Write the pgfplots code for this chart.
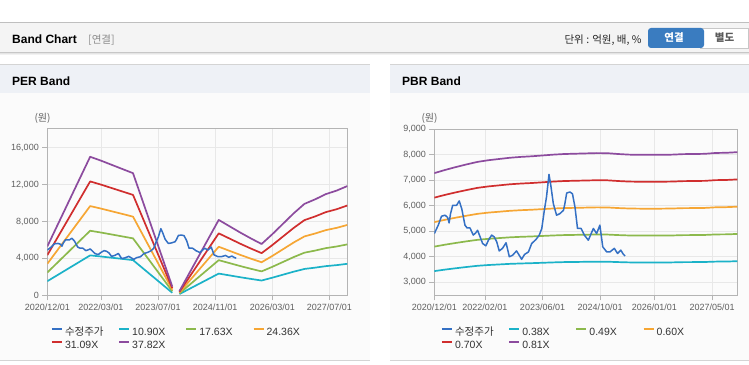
\documentclass[border=0pt]{standalone}
\usepackage{fontspec}
\setmainfont{Liberation Sans}
\newfontfamily\kr{Noto Sans CJK KR}
\usepackage{pgfplots}
\usepackage{pgfplotstable}
\pgfplotsset{compat=1.18}
\definecolor{cPrice}{RGB}{52,112,196}
\definecolor{cCyan}{RGB}{27,178,200}
\definecolor{cGreen}{RGB}{140,185,76}
\definecolor{cOrange}{RGB}{246,166,52}
\definecolor{cRed}{RGB}{208,46,46}
\definecolor{cPurple}{RGB}{140,75,158}
\definecolor{tickgray}{RGB}{95,95,95}
\definecolor{axgray}{RGB}{180,180,180}
\definecolor{gridgray}{RGB}{232,232,232}
\definecolor{hdrbg}{RGB}{244,244,244}
\definecolor{panelbg}{RGB}{238,241,246}
\definecolor{btnblue}{RGB}{58,124,192}

\pgfplotstableread{
m price
0 4900
1.1 5230
2.0 5580
3.0 5620
3.7 5530
4.1 5320
4.5 5680
5.1 6010
6.2 6010
6.9 6180
7.6 5880
8.5 5230
9.1 5120
9.9 5120
10.8 4840
11.5 4930
12.0 5030
12.7 4770
13.4 4510
14.3 4420
15.0 4640
15.9 4840
16.6 4770
17.3 4580
18.0 4220
18.9 4320
19.9 4540
20.8 3990
21.7 4050
22.8 4220
23.8 3990
24.2 3890
25.0 4080
26.1 4180
27.0 4510
28.2 4670
29.1 4840
29.8 5100
30.5 5810
31.1 6330
31.8 7220
32.3 6790
33.0 6070
33.9 5620
34.8 5680
35.8 5810
36.2 6070
36.7 6490
37.6 6530
38.3 6460
39.0 5940
39.7 5100
40.7 5100
41.6 4840
42.7 4640
43.3 4840
44.1 5100
45.0 4900
45.9 5230
46.7 4380
47.8 4180
48.7 4180
49.9 4320
50.8 4120
51.7 4250
52.4 4090
52.9 4020
}\price

\pgfplotstableread{
m c g o r p
0 1526 2468 3410 4353 5295
12 4327 6999 9671 12343 15015
15 4207 6805 9403 12001 14599
18 4077 6594 9111 11628 14145
21 3946 6382 8818 11255 13691
24 3815 6171 8526 10882 13237
35 273 441 609 777 946
36 nan nan nan nan nan
37 131 212 292 373 454
48 2354 3808 5262 6715 8169
51 2158 3491 4823 6156 7488
54 1962 3173 4385 5596 6808
57 1777 2874 3971 5068 6165
60 1602 2592 3581 4570 5560
63 1908 3085 4263 5441 6619
66 2235 3614 4994 6373 7753
69 2562 4143 5725 7306 8888
72 2856 4619 6382 8146 9909
75 2998 4848 6699 8550 10401
78 3161 5113 7064 9016 10968
81 3270 5289 7308 9327 11346
84 3412 5518 7625 9731 11838
}\per

\pgfplotstableread{
m c g o r p
0 3428 4389 5349 6309 7270
3 3488 4465 5441 6418 7395
6 3541 4533 5525 6517 7509
9 3591 4597 5602 6608 7614
12 3637 4655 5674 6693 7711
15 3667 4694 5722 6749 7776
18 3690 4724 5757 6791 7825
21 3713 4753 5793 6833 7873
24 3728 4773 5817 6861 7906
27 3740 4787 5835 6882 7930
30 3755 4807 5859 6910 7962
33 3770 4826 5883 6939 7995
36 3782 4841 5900 6960 8019
40 3789 4851 5912 6974 8035
45 3799 4863 5927 6991 8055
48 3797 4861 5924 6988 8051
51 3782 4841 5900 6960 8019
54 3770 4826 5883 6939 7995
57 3767 4822 5877 6932 7987
63 3767 4822 5877 6932 7987
66 3770 4826 5883 6939 7995
69 3780 4839 5897 6956 8015
72 3782 4841 5900 6960 8019
75 3786 4846 5906 6967 8027
78 3801 4866 5930 6995 8060
81 3805 4870 5936 7002 8068
84 3816 4885 5954 7023 8092
}\pbr

\pgfplotsset{
  bandaxis/.style={
    scale only axis,
    anchor=south west,
    xmin=0, xmax=84,
    scaled ticks=false,
    tick pos=left,
    tick align=outside,
    major tick length=5pt,
    tick style={color=axgray, line width=0.6pt},
    axis line style={color=axgray, line width=0.8pt},
    grid=major,
    major grid style={color=gridgray, line width=0.6pt},
    xticklabel style={font=\fontsize{9}{10}\selectfont, text=tickgray},
    yticklabel style={font=\fontsize{9}{10}\selectfont, text=tickgray},
    /pgf/number format/.cd, fixed, 1000 sep={,}, assume math mode=true,
    /pgfplots/.cd,
    unbounded coords=jump,
    every axis plot/.append style={line width=1.7pt, line join=round},
    legend columns=4,
    legend cell align=left,
    legend image code/.code={\draw[line width=2.2pt] (0pt,3.6pt) -- (10pt,3.6pt);},
    legend style={draw=none, fill=none, inner sep=0pt, anchor=north west,
      row sep=0pt,
      nodes={inner xsep=2pt, inner ysep=1.2pt, text width=51pt, text height=8pt, text depth=2.5pt,
        align=left, font=\fontsize{10.5}{12}\selectfont, text=black!80}},
  }
}

\begin{document}
\begin{tikzpicture}[x=1pt,y=1pt]
\path[use as bounding box] (0,0) rectangle (749,364);
\fill[white] (0,0) rectangle (749,364);
% header bar
\fill[hdrbg] (0,311.5) rectangle (749,341);
\draw[color=black!25, line width=1pt] (0,341.3) -- (749,341.3);
\draw[color=black!22, line width=0.8pt] (0,311.3) -- (749,311.3);
\draw[color=black!10, line width=1pt] (0,310.2) -- (749,310.2);
\draw[color=black!5, line width=1pt] (0,309.2) -- (749,309.2);
\node[anchor=base west, inner sep=0pt, font=\bfseries\fontsize{12}{14}\selectfont] at (12,320.7) {Band Chart};
\node[anchor=base west, inner sep=0pt, text=black!45, font=\kr\fontsize{10.5}{12}\selectfont] at (88,320.7) {[연결]};
\node[anchor=base east, inner sep=0pt, text=black!85, font=\kr\fontsize{10.5}{12}\selectfont] at (641.7,320.7) {단위 : 억원, 배, \%};
\draw[color=black!22, fill=white, line width=0.8pt] (700,316) rectangle (748.6,336);
\fill[btnblue, rounded corners=3pt] (648,316) rectangle (704,336);
\fill[btnblue] (696,316) rectangle (700,336);
\node[text=white, font=\kr\bfseries\fontsize{10.5}{12}\selectfont] at (674,326) {연결};
\node[text=black!65, font=\kr\bfseries\fontsize{10.5}{12}\selectfont] at (724.5,326) {별도};
% panels
\foreach \xa/\xb in {0/370, 390/749}{
  \fill[black!1.5] (\xa,3.5) rectangle (\xb,271.3);
  \fill[panelbg] (\xa,271.3) rectangle (\xb,299.5);
  \draw[color=black!17, line width=1pt] (\xa,299.8) -- (\xb,299.8);
  \draw[color=black!17, line width=1pt] (\xa,3.3) -- (\xb,3.3);
}
\node[anchor=base west, inner sep=0pt, font=\bfseries\fontsize{12}{14}\selectfont] at (12,278.5) {PER Band};
\node[anchor=base west, inner sep=0pt, font=\bfseries\fontsize{12}{14}\selectfont] at (402,278.5) {PBR Band};
\node[text=tickgray, font=\kr\fontsize{10}{12}\selectfont] at (42.5,246) {(원)};
\node[text=tickgray, font=\kr\fontsize{10}{12}\selectfont] at (429.5,246) {(원)};

% PER axis
\begin{axis}[bandaxis,
  at={(47.3pt,68.7pt)}, width=300pt, height=167pt,
  ymin=0, ymax=18100,
  ytick={0,4000,8000,12000,16000},
  xtick={0,15,31,47,63,79},
  xticklabels={2020/12/01,2022/03/01,2023/07/01,2024/11/01,2026/03/01,2027/07/01},
  legend style={at={(0.011,-0.183)}},
]
\addlegendimage{cPrice}
\addlegendentry{{\kr 수정주가}}
\addplot[cCyan] table[x=m,y=c]{\per};
\addlegendentry{10.90X}
\addplot[cGreen] table[x=m,y=g]{\per};
\addlegendentry{17.63X}
\addplot[cOrange] table[x=m,y=o]{\per};
\addlegendentry{24.36X}
\addplot[cRed] table[x=m,y=r]{\per};
\addlegendentry{31.09X}
\addplot[cPurple] table[x=m,y=p]{\per};
\addlegendentry{37.82X}
\addplot[cPrice, line width=1.5pt, forget plot] table[x=m,y=price]{\price};
\end{axis}

% PBR axis
\begin{axis}[bandaxis,
  at={(434.3pt,68.7pt)}, width=303pt, height=166.3pt,
  ymin=2480, ymax=9000,
  ytick={3000,4000,5000,6000,7000,8000,9000},
  xtick={0,14,30,46,61,77},
  xticklabels={2020/12/01,2022/02/01,2023/06/01,2024/10/01,2026/01/01,2027/05/01},
  legend style={at={(0.021,-0.184)}},
]
\addlegendimage{cPrice}
\addlegendentry{{\kr 수정주가}}
\addplot[cCyan] table[x=m,y=c]{\pbr};
\addlegendentry{0.38X}
\addplot[cGreen] table[x=m,y=g]{\pbr};
\addlegendentry{0.49X}
\addplot[cOrange] table[x=m,y=o]{\pbr};
\addlegendentry{0.60X}
\addplot[cRed] table[x=m,y=r]{\pbr};
\addlegendentry{0.70X}
\addplot[cPurple] table[x=m,y=p]{\pbr};
\addlegendentry{0.81X}
\addplot[cPrice, line width=1.5pt, forget plot] table[x=m,y=price]{\price};
\end{axis}
\end{tikzpicture}
\end{document}
